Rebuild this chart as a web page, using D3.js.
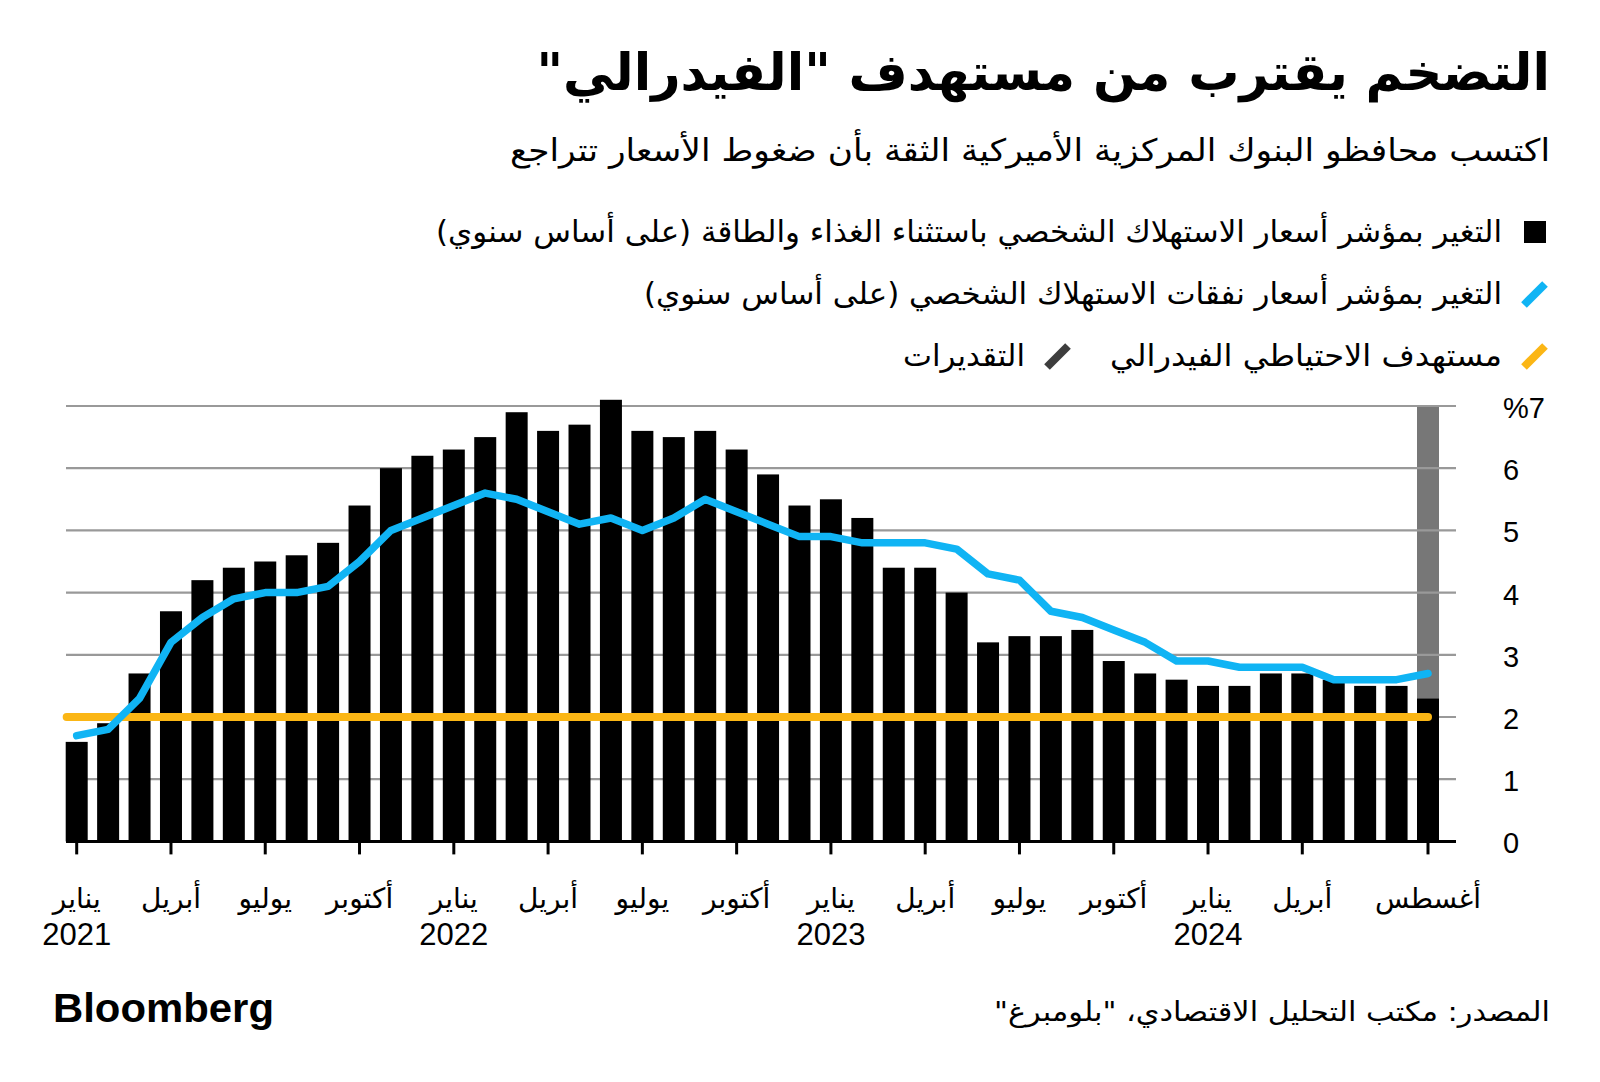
<!DOCTYPE html>
<html>
<head>
<meta charset="utf-8">
<script src="https://cdn.jsdelivr.net/npm/d3@7"></script>
<style>
  body { margin: 0; background: #fff; }
  svg { display: block; }
</style>
</head>
<body>
<div id="chart"></div>
<script>
// month keys, Jan 2021 .. Aug 2024
const months = ["2021-01","2021-02","2021-03","2021-04","2021-05","2021-06","2021-07","2021-08","2021-09","2021-10","2021-11","2021-12",
  "2022-01","2022-02","2022-03","2022-04","2022-05","2022-06","2022-07","2022-08","2022-09","2022-10","2022-11","2022-12",
  "2023-01","2023-02","2023-03","2023-04","2023-05","2023-06","2023-07","2023-08","2023-09","2023-10","2023-11","2023-12",
  "2024-01","2024-02","2024-03","2024-04","2024-05","2024-06","2024-07","2024-08"]

// bars (black)
const barValues = [1.6,1.9,2.7,3.7,4.2,4.4,4.5,4.6,4.8,5.4,6.0,6.2,
  6.3,6.5,6.9,6.6,6.7,7.1,6.6,6.5,6.6,6.3,5.9,5.4,
  5.5,5.2,4.4,4.4,4.0,3.2,3.3,3.3,3.4,2.9,2.7,2.6,
  2.5,2.5,2.7,2.7,2.6,2.5,2.5,2.3]

// line (blue)
const lineValues = [1.7,1.8,2.3,3.2,3.6,3.9,4.0,4.0,4.1,4.5,5.0,5.2,
  5.4,5.6,5.5,5.3,5.1,5.2,5.0,5.2,5.5,5.3,5.1,4.9,
  4.9,4.8,4.8,4.8,4.7,4.3,4.2,3.7,3.6,3.4,3.2,2.9,
  2.9,2.8,2.8,2.8,2.6,2.6,2.6,2.7]

const fedTarget = 2
const estimateMonths = ["2024-08"]

const yTicks = [0,1,2,3,4,5,6,7]
const xTickMonths = ["2021-01","2021-04","2021-07","2021-10","2022-01","2022-04","2022-07","2022-10",
  "2023-01","2023-04","2023-07","2023-10","2024-01","2024-04","2024-08"]
const xTickNames = ["يناير","أبريل","يوليو","أكتوبر","يناير","أبريل","يوليو","أكتوبر",
  "يناير","أبريل","يوليو","أكتوبر","يناير","أبريل","أغسطس"]
const xTickYears = ["2021","","","","2022","","","","2023","","","","2024","",""]

const legendLabels = [
  "التغير بمؤشر أسعار الاستهلاك الشخصي باستثناء الغذاء والطاقة (على أساس سنوي)",
  "التغير بمؤشر أسعار نفقات الاستهلاك الشخصي (على أساس سنوي)",
  "مستهدف الاحتياطي الفيدرالي",
  "التقديرات"
]

const AR_FONT = "'DejaVu Sans', sans-serif"

drawChart("#chart")

function drawChart(id){
  const canvas = createCanvas()
  d3.select(id).html("")
  const svg = d3.select(id).append("svg").attr("width",canvas.width).attr("height",canvas.height)

  const x = d3.scaleBand().domain(months).range([canvas.plot.left,canvas.plot.right]).paddingInner(0.3)
  const y = d3.scaleLinear().domain([0,7]).range([canvas.plot.bottom,canvas.plot.top])

  addTitle(svg)
  addLegend(svg)
  addEstimate(svg,x,y)
  addGrid(svg,x,y,canvas)
  addBars(svg,x,y)
  addTarget(svg,x,y)
  addLine(svg,x,y)
  addAxes(svg,x,y,canvas)
  addFooter(svg)
}

function createCanvas(){
  return {
    width: 1600, height: 1082,
    plot: {left: 65.7, right: 1439, top: 406, bottom: 841.4},
    gridLeft: 66, gridRight: 1456
  }
}

// right-aligned arabic text, fitted to the width seen in the picture
function arText(svg,x,y,size,str,weight,len){
  const t = svg.append("text").attr("x",x).attr("y",y).attr("direction","rtl").attr("text-anchor","start")
    .attr("font-family",AR_FONT).attr("font-size",size).attr("font-weight",weight || "normal")
    .attr("fill","#000").text(str)
  if(len) t.attr("textLength",len).attr("lengthAdjust","spacingAndGlyphs")
  return t
}

function addTitle(svg){
  arText(svg,1550,90,51,"التضخم يقترب من مستهدف \"الفيدرالي\"","bold")
  arText(svg,1550,161,31,"اكتسب محافظو البنوك المركزية الأميركية الثقة بأن ضغوط الأسعار تتراجع","normal",1040)
}

function addLegend(svg){
  svg.append("rect").attr("x",1524).attr("y",221).attr("width",22).attr("height",22).attr("fill","#000")
  arText(svg,1502,242,30,legendLabels[0],"normal",1066)

  svg.append("line").attr("x1",1524).attr("y1",305).attr("x2",1545).attr("y2",284)
    .attr("stroke","#10b4f4").attr("stroke-width",8)
  arText(svg,1502,304,30,legendLabels[1],"normal",858)

  svg.append("line").attr("x1",1524).attr("y1",367).attr("x2",1545).attr("y2",346)
    .attr("stroke","#fbb615").attr("stroke-width",8)
  arText(svg,1502,366,30,legendLabels[2],"normal",392)

  svg.append("line").attr("x1",1047).attr("y1",367).attr("x2",1068).attr("y2",346)
    .attr("stroke","#3d3d3d").attr("stroke-width",8)
  arText(svg,1025,366,30,legendLabels[3],"normal",122)
}

function addEstimate(svg,x,y){
  svg.selectAll(".estimate").data(estimateMonths).enter().append("rect").attr("class","estimate")
    .attr("x",d => x(d)).attr("width",x.bandwidth())
    .attr("y",y(7)).attr("height",d => y(barValues[months.indexOf(d)]) - y(7))
    .attr("fill","#777")
}

function addGrid(svg,x,y,canvas){
  svg.selectAll(".grid").data(yTicks.filter(d => d > 0)).enter().append("line").attr("class","grid")
    .attr("x1",canvas.gridLeft).attr("x2",canvas.gridRight)
    .attr("y1",d => y(d)).attr("y2",d => y(d))
    .attr("stroke","#999").attr("stroke-width",2.2)
}

function addBars(svg,x,y){
  svg.selectAll(".bar").data(months).enter().append("rect").attr("class","bar")
    .attr("x",d => x(d)).attr("width",x.bandwidth())
    .attr("y",(d,i) => y(barValues[i])).attr("height",(d,i) => y(0) - y(barValues[i]))
    .attr("fill","#000")
}

function addTarget(svg,x,y){
  const x0 = x(months[0]) + 1
  const x1 = x(months[months.length-1]) + x.bandwidth()/2
  svg.append("line").attr("x1",x0).attr("x2",x1).attr("y1",y(fedTarget)).attr("y2",y(fedTarget))
    .attr("stroke","#fbb615").attr("stroke-width",8).attr("stroke-linecap","round")
}

function addLine(svg,x,y){
  const line = d3.line().x((d,i) => x(months[i]) + x.bandwidth()/2).y(d => y(d))
  svg.append("path").datum(lineValues).attr("d",line)
    .attr("fill","none").attr("stroke","#10b4f4").attr("stroke-width",7.5)
    .attr("stroke-linejoin","round").attr("stroke-linecap","round")
}

function addAxes(svg,x,y,canvas){
  svg.append("line").attr("x1",canvas.gridLeft).attr("x2",canvas.gridRight)
    .attr("y1",y(0)).attr("y2",y(0)).attr("stroke","#000").attr("stroke-width",3)

  svg.selectAll(".xtick").data(xTickMonths).enter().append("line").attr("class","xtick")
    .attr("x1",d => x(d) + x.bandwidth()/2).attr("x2",d => x(d) + x.bandwidth()/2)
    .attr("y1",y(0)).attr("y2",y(0) + 13).attr("stroke","#000").attr("stroke-width",3)

  svg.selectAll(".xname").data(xTickMonths).enter().append("text").attr("class","xname")
    .attr("x",d => x(d) + x.bandwidth()/2).attr("y",908).attr("text-anchor","middle")
    .attr("font-family",AR_FONT).attr("font-size",28).attr("fill","#000")
    .text((d,i) => xTickNames[i])

  svg.selectAll(".xyear").data(xTickMonths).enter().append("text").attr("class","xyear")
    .attr("x",d => x(d) + x.bandwidth()/2).attr("y",945).attr("text-anchor","middle")
    .attr("font-family","'Liberation Sans', Arial, sans-serif").attr("font-size",31).attr("fill","#000")
    .text((d,i) => xTickYears[i])

  svg.selectAll(".ylab").data(yTicks).enter().append("text").attr("class","ylab")
    .attr("x",1503).attr("y",d => y(d) + 2).attr("dominant-baseline","central")
    .attr("font-family","'Liberation Sans', Arial, sans-serif").attr("font-size",29).attr("fill","#000")
    .text(d => d === 7 ? "%7" : d)
}

function addFooter(svg){
  arText(svg,1550,1021,27,"المصدر: مكتب التحليل الاقتصادي، \"بلومبرغ\"","normal",556)
  svg.append("text").attr("x",53).attr("y",1022).attr("font-family","'Liberation Sans', Arial, sans-serif")
    .attr("font-size",40).attr("font-weight","bold").attr("fill","#000")
    .attr("textLength",221).attr("lengthAdjust","spacingAndGlyphs").text("Bloomberg")
}
</script>
</body>
</html>
